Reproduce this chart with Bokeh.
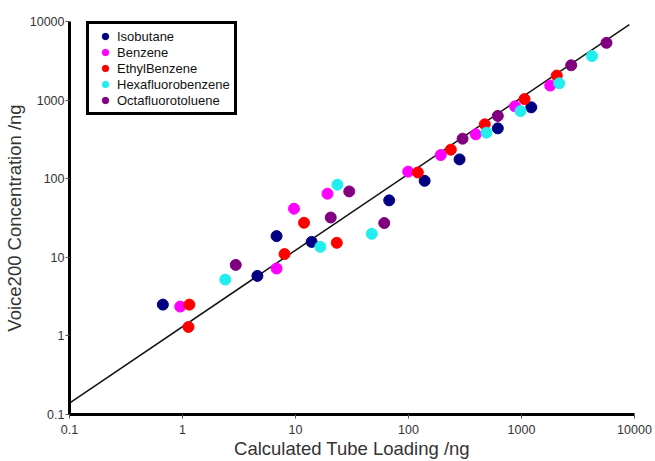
from bokeh.plotting import figure
from bokeh.models import Range1d, FixedTicker, CustomJSTickFormatter, Legend, LegendItem
from bokeh.embed import file_html
from bokeh.resources import INLINE

# ---- data ----
iso_x = [0.67, 4.6, 6.8, 13.9, 67.5, 139, 283, 617, 1221]
iso_y = [2.5, 5.8, 18.6, 15.7, 53, 94, 176, 437, 809]

benz_x = [0.955, 6.8, 9.7, 19.2, 99.4, 193, 394, 876, 1795]
benz_y = [2.36, 7.2, 41.5, 64.4, 123, 200, 367, 834, 1530]

ethyl_x = [1.15, 1.13, 8.0, 11.9, 23.2, 121, 237, 473, 1064, 2052]
ethyl_y = [2.5, 1.30, 11.0, 27.5, 15.3, 120, 234, 492, 1030, 2052]

hexa_x = [2.39, 16.6, 23.5, 47.3, 490, 980, 2157, 4207]
hexa_y = [5.2, 13.6, 83.9, 19.9, 385, 724, 1637, 3637]

octa_x = [2.96, 20.5, 29.9, 61, 301, 617, 2754, 5650]
octa_y = [8.0, 32.1, 68.9, 27.3, 323, 629, 2775, 5355]

fit_x = [0.1, 9000]
fit_y = [0.14, 9100]

tick_values = [0.1, 1, 10, 100, 1000, 10000]
tick_labels = ["0.1", "1", "10", "100", "1000", "10000"]

series = [
    ("Isobutane", iso_x, iso_y, "#000080"),
    ("Benzene", benz_x, benz_y, "#ff00ff"),
    ("EthylBenzene", ethyl_x, ethyl_y, "#ff0000"),
    ("Hexafluorobenzene", hexa_x, hexa_y, "#22eeee"),
    ("Octafluorotoluene", octa_x, octa_y, "#800080"),
]

FONT = "Liberation Sans"
FH = 393

p = figure(frame_width=565, frame_height=FH,
           x_axis_type="log", y_axis_type="log",
           x_range=Range1d(0.1, 10000), y_range=Range1d(0.1, 10000),
           output_backend="svg", toolbar_location=None,
           min_border_left=67, min_border_right=23, min_border_top=21, min_border_bottom=47)

p.background_fill_color = "white"
p.border_fill_color = "white"
p.outline_line_color = None
p.xgrid.visible = False
p.ygrid.visible = False

p.line(fit_x, fit_y, line_color="#111111", line_width=1.5)

items = []
for name, xs, ys, col in series:
    r = p.scatter(xs, ys, marker="circle", size=11, fill_color=col, line_color=col)
    items.append(LegendItem(label=name, renderers=[r]))

fmt = CustomJSTickFormatter(args=dict(tv=tick_values, tl=tick_labels), code="""
const i = tv.findIndex(t => Math.abs(Math.log10(t) - Math.log10(tick)) < 1e-6);
return i >= 0 ? tl[i] : '';
""")

for ax in (p.xaxis[0], p.yaxis[0]):
    ax.ticker = FixedTicker(ticks=tick_values, minor_ticks=[])
    ax.formatter = fmt
    ax.axis_line_width = 3
    ax.axis_line_color = "black"
    ax.major_tick_out = 4
    ax.major_tick_in = 0
    ax.major_tick_line_color = "#555555"
    ax.major_tick_line_width = 1
    ax.minor_tick_line_color = None
    ax.major_label_text_font = FONT
    ax.major_label_text_font_size = "12.5px"
    ax.major_label_text_color = "#333333"
    ax.axis_label_text_font = FONT
    ax.axis_label_text_font_style = "normal"
    ax.axis_label_text_color = "#333333"
    ax.axis_label_text_font_size = "18.5px"

p.xaxis[0].axis_label = "Calculated Tube Loading /ng"
p.yaxis[0].axis_label = "Voice200 Concentration /ng"
p.xaxis[0].major_label_standoff = 6
p.yaxis[0].major_label_standoff = 1
p.xaxis[0].axis_label_standoff = 1
p.yaxis[0].axis_label_standoff = 2

legend = Legend(items=items, location=(17, 299))
legend.label_text_font = FONT
legend.label_text_font_size = "13px"
legend.label_text_color = "#111111"
legend.border_line_color = "black"
legend.border_line_alpha = 1.0
legend.border_line_width = 3
legend.padding = 4
legend.spacing = 0
legend.margin = 0
legend.label_height = 16
legend.glyph_height = 16
legend.glyph_width = 24
legend.label_standoff = 0
p.add_layout(legend, "center")

open("out.html", "w").write(file_html(p, INLINE))
